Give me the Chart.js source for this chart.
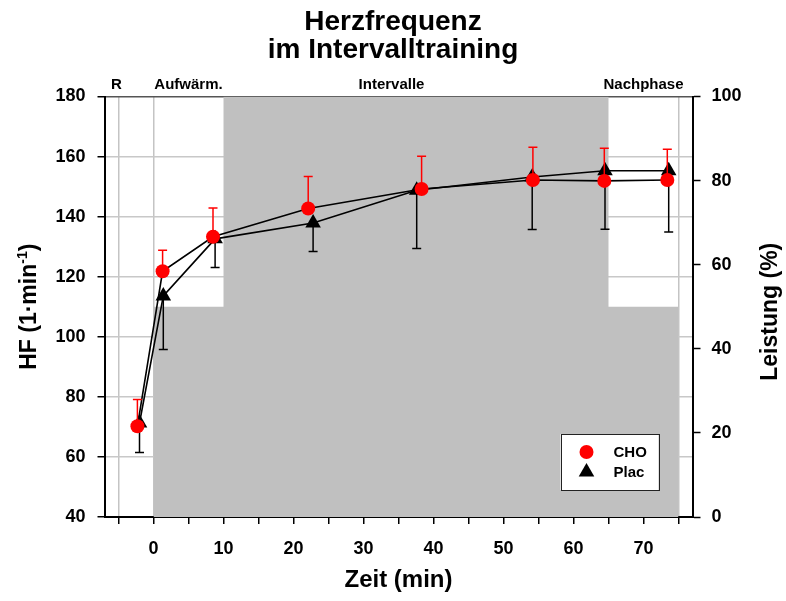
<!DOCTYPE html>
<html>
<head>
<meta charset="utf-8">
<title>Herzfrequenz im Intervalltraining</title>
<script src="https://cdn.jsdelivr.net/npm/chart.js@4.4.0/dist/chart.umd.min.js"></script>
<style>
  html, body { margin: 0; padding: 0; background: #fff; }
</style>
</head>
<body>
<canvas id="chartCanvas" width="786" height="601"></canvas>
<script>
const choTime = [-2.3, 1.3, 8.5, 22.1, 38.3, 54.2, 64.4, 73.4];
const choHF = [70.2, 121.8, 133.3, 142.7, 149.2, 152.2, 151.9, 152.2];
const choSD = [8.9, 7.0, 9.6, 10.7, 10.9, 10.9, 10.9, 10.2];

const placTime = [-2.0, 1.4, 8.8, 22.8, 37.6, 54.1, 64.5, 73.6];
const placHF = [71.3, 113.6, 132.6, 137.9, 148.8, 153.2, 155.3, 155.3];
const placSD = [9.8, 17.8, 9.5, 9.5, 19.4, 17.5, 19.5, 20.4];

// training load (Leistung, %) per phase
const loadTime = [0, 10, 65, 75];
const loadPercent = [50, 100, 50, 50];

const phaseNames = ['R', 'Aufwärm.', 'Intervalle', 'Nachphase'];
const phaseCenters = [-5.3, 5, 34, 70];
const phaseLines = [-5, 0, 75];

const timeTicks = [-5, 0, 5, 10, 15, 20, 25, 30, 35, 40, 45, 50, 55, 60, 65, 70, 75];
const hfTicks = [40, 60, 80, 100, 120, 140, 160, 180];
const loadTicks = [0, 20, 40, 60, 80, 100];

const FONT = "'Liberation Sans', Arial, Helvetica, sans-serif";
const TITLE_SIZE = 28;
const TITLE_LH = 1.0;
const TITLE_PAD = {top: 8, bottom: 0};
const PLOT_TOP = 96.5;

function toPoints(xs, ys) {
    return xs.map((x, i) => ({x: x, y: ys[i]}));
}

// error bars: CHO upwards (red), Plac downwards (black)
const errorBars = {
    id: 'errorBars',
    afterDatasetDraw(chart, args) {
        const ds = chart.data.datasets[args.index];
        if (!ds.errors) return;
        const ctx = chart.ctx;
        const yScale = chart.scales[ds.yAxisID];
        ctx.save();
        ctx.strokeStyle = ds.errorColor;
        ctx.lineWidth = 1.5;
        args.meta.data.forEach((pt, i) => {
            const end = yScale.getPixelForValue(ds.data[i].y + ds.errorDir * ds.errors[i]);
            ctx.beginPath();
            ctx.moveTo(pt.x, pt.y);
            ctx.lineTo(pt.x, end);
            ctx.moveTo(pt.x - 4.5, end);
            ctx.lineTo(pt.x + 4.5, end);
            ctx.stroke();
        });
        ctx.restore();
    }
};

// boxed legend inside the plot, lower right
const boxLegend = {
    id: 'boxLegend',
    afterDraw(chart) {
        const {ctx, chartArea} = chart;
        const w = 98, h = 56;
        const left = chartArea.right - 34 - w;
        const top = chartArea.bottom - 27 - h;
        ctx.save();
        ctx.fillStyle = '#fff';
        ctx.fillRect(left, top, w, h);
        ctx.strokeStyle = '#222';
        ctx.lineWidth = 1;
        ctx.strokeRect(Math.round(left) + 0.5, Math.round(top) + 0.5, w, h);
        const sets = chart.data.datasets.filter(d => d.errors);
        sets.forEach((ds, i) => {
            const cx = left + 26;
            const cy = top + 18 + i * 20;
            ctx.fillStyle = ds.pointBackgroundColor;
            ctx.beginPath();
            if (ds.pointStyle === 'triangle') {
                const r = ds.pointRadius;
                ctx.moveTo(cx, cy - r);
                ctx.lineTo(cx + r * 0.866, cy + r / 2);
                ctx.lineTo(cx - r * 0.866, cy + r / 2);
                ctx.closePath();
            } else {
                ctx.arc(cx, cy, ds.pointRadius, 0, Math.PI * 2);
            }
            ctx.fill();
            ctx.fillStyle = '#000';
            ctx.font = 'bold 15px ' + FONT;
            ctx.textBaseline = 'middle';
            ctx.textAlign = 'left';
            ctx.fillText(ds.label, left + 53, cy + 1);
        });
        ctx.restore();
    }
};

// rotated axis titles (both read bottom to top)
const axisTitles = {
    id: 'axisTitles',
    afterDraw(chart) {
        const {ctx, chartArea} = chart;
        const midY = (chartArea.top + chartArea.bottom) / 2;
        const big = 'bold 23px ' + FONT;
        const small = 'bold 14px ' + FONT;

        ctx.save();
        ctx.fillStyle = '#000';
        ctx.textBaseline = 'alphabetic';
        ctx.textAlign = 'left';

        // left: HF (1·min^-1)
        const parts = [
            {t: 'HF (1·min', f: big, dy: 0},
            {t: '-1', f: small, dy: -9},
            {t: ')', f: big, dy: 0}
        ];
        let total = 0;
        parts.forEach(p => { ctx.font = p.f; p.w = ctx.measureText(p.t).width; total += p.w; });
        ctx.save();
        ctx.translate(36, midY);
        ctx.rotate(-Math.PI / 2);
        let x = -total / 2;
        parts.forEach(p => {
            ctx.font = p.f;
            ctx.fillText(p.t, x, p.dy);
            x += p.w;
        });
        ctx.restore();

        // right: Leistung (%)
        ctx.save();
        ctx.font = big;
        ctx.translate(777, midY + 5);
        ctx.rotate(-Math.PI / 2);
        ctx.textAlign = 'center';
        ctx.fillText('Leistung (%)', 0, 0);
        ctx.restore();

        ctx.restore();
    }
};

const tickFont = {family: FONT, size: 18, weight: 'bold'};

const chartData = {
    datasets: [
        {
            label: 'CHO',
            data: toPoints(choTime, choHF),
            errors: choSD,
            errorDir: 1,
            errorColor: '#ff0000',
            xAxisID: 'x',
            yAxisID: 'y',
            borderColor: '#000',
            borderWidth: 1.6,
            pointStyle: 'circle',
            pointRadius: 7,
            pointBackgroundColor: '#ff0000',
            pointBorderColor: '#ff0000',
            pointBorderWidth: 0,
            fill: false,
            order: 0
        },
        {
            label: 'Plac',
            data: toPoints(placTime, placHF),
            errors: placSD,
            errorDir: -1,
            errorColor: '#000',
            xAxisID: 'x',
            yAxisID: 'y',
            borderColor: '#000',
            borderWidth: 1.6,
            pointStyle: 'triangle',
            pointRadius: 9,
            pointBackgroundColor: '#000',
            pointBorderColor: '#000',
            pointBorderWidth: 0,
            fill: false,
            order: 1
        },
        {
            label: 'Leistung',
            data: toPoints(loadTime, loadPercent),
            xAxisID: 'x',
            yAxisID: 'y1',
            stepped: true,
            fill: 'origin',
            backgroundColor: '#c0c0c0',
            borderWidth: 0,
            borderColor: 'rgba(0,0,0,0)',
            pointRadius: 0,
            order: 2
        }
    ]
};

const chartOptions = {
    responsive: false,
    animation: false,
    layout: {padding: 0},
    plugins: {
        legend: {display: false},
        tooltip: {enabled: false},
        title: {
            display: true,
            text: ['Herzfrequenz', 'im Intervalltraining'],
            color: '#000',
            font: {family: FONT, size: TITLE_SIZE, weight: 'bold', lineHeight: TITLE_LH},
            padding: TITLE_PAD
        }
    },
    scales: {
        x: {
            type: 'linear',
            position: 'bottom',
            min: -7,
            max: 77,
            afterBuildTicks: s => { s.ticks = timeTicks.map(v => ({value: v})); },
            afterFit: s => { s.height = 84; },
            ticks: {
                color: '#000',
                font: tickFont,
                padding: 14,
                autoSkip: false,
                maxRotation: 0,
                callback: v => (v >= 0 && v % 10 === 0) ? v : ''
            },
            grid: {
                color: c => (c.tick && phaseLines.includes(c.tick.value)) ? '#c4c4c4' : 'rgba(0,0,0,0)',
                lineWidth: 1.5,
                tickColor: '#000',
                tickWidth: 1.5,
                tickLength: 7
            },
            border: {color: '#000', width: 2},
            title: {
                display: true,
                text: 'Zeit (min)',
                color: '#000',
                font: {family: FONT, size: 24, weight: 'bold'},
                padding: {top: 0, bottom: 6}
            }
        },
        xTop: {
            type: 'linear',
            position: 'top',
            min: -7,
            max: 77,
            afterBuildTicks: s => { s.ticks = phaseCenters.map(v => ({value: v})); },
            afterFit: s => {
                const titleH = TITLE_SIZE * TITLE_LH * 2 + TITLE_PAD.top + TITLE_PAD.bottom;
                s.height = PLOT_TOP - titleH;
            },
            ticks: {
                color: '#000',
                font: {family: FONT, size: 15, weight: 'bold'},
                padding: 3,
                autoSkip: false,
                maxRotation: 0,
                callback: (v, i) => phaseNames[i]
            },
            grid: {display: false, drawTicks: false},
            border: {display: false}
        },
        y: {
            type: 'linear',
            position: 'left',
            min: 40,
            max: 180,
            afterBuildTicks: s => { s.ticks = hfTicks.map(v => ({value: v})); },
            afterFit: s => { s.width = 104.5; },
            ticks: {color: '#000', font: tickFont, padding: 12},
            grid: {
                color: c => (c.tick && c.tick.value === 180) ? '#555' : '#c8c8c8',
                lineWidth: 1.5,
                tickColor: '#000',
                tickWidth: 1.5,
                tickLength: 7
            },
            border: {color: '#000', width: 2}
        },
        y1: {
            type: 'linear',
            position: 'right',
            min: 0,
            max: 100,
            afterBuildTicks: s => { s.ticks = loadTicks.map(v => ({value: v})); },
            afterFit: s => { s.width = 93.5; },
            ticks: {color: '#000', font: tickFont, padding: 11},
            grid: {
                drawOnChartArea: false,
                tickColor: '#000',
                tickWidth: 1.5,
                tickLength: 8
            },
            border: {color: '#000', width: 2}
        }
    }
};

const chart = new Chart(document.getElementById('chartCanvas'), {
    type: 'line',
    data: chartData,
    options: chartOptions,
    plugins: [errorBars, boxLegend, axisTitles]
});
</script>
</body>
</html>
